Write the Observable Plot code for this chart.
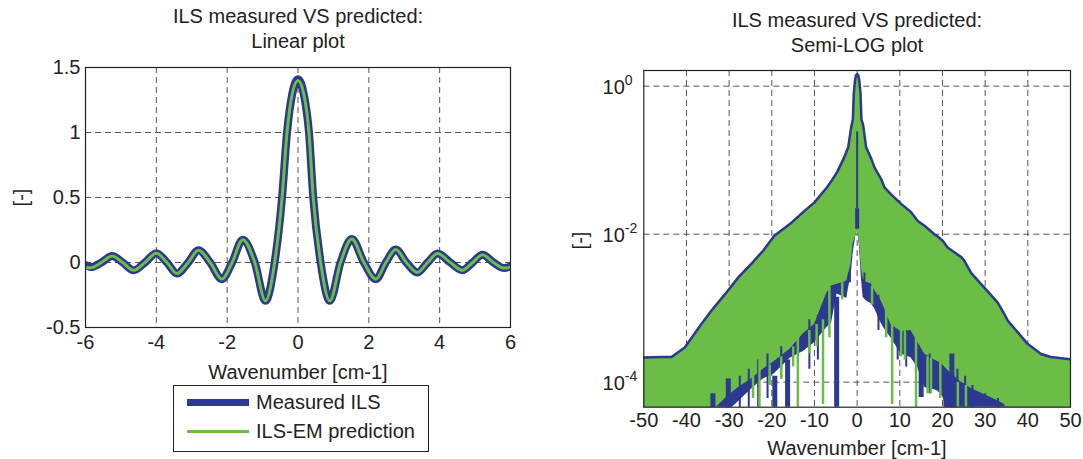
<!DOCTYPE html>
<html><head><meta charset="utf-8">
<script src="https://cdn.jsdelivr.net/npm/d3@7"></script>
<script src="https://cdn.jsdelivr.net/npm/@observablehq/plot@0.6"></script>
<style>
html,body{margin:0;padding:0;background:#fff;}
#root{position:relative;width:1083px;height:459px;overflow:hidden;font-family:"Liberation Sans",Arial,sans-serif;color:#222;background:#fff;}
.t{position:absolute;font-size:20px;text-align:center;white-space:nowrap;line-height:25px;}
.p{position:absolute;}
</style></head>
<body><div id="root"></div>
<script>
// ---------- Left panel data (linear plot) ----------
const leftX = [-6, -5.85, -5.55, -5.25, -4.95, -4.64, -4.32, -4.0, -3.7, -3.42, -3.1, -2.81, -2.48, -2.15, -1.86, -1.56, -1.22, -0.92, -0.66, -0.45, -0.31, -0.16, 0, 0.16, 0.31, 0.43, 0.64, 0.9, 1.2, 1.52, 1.86, 2.2, 2.48, 2.76, 3.06, 3.37, 3.66, 3.94, 4.3, 4.64, 4.93, 5.21, 5.52, 5.82, 6];
const measuredILS = [-0.02, -0.035, 0, 0.05, 0, -0.06, 0, 0.072, 0, -0.085, 0, 0.095, 0, -0.128, 0, 0.175, 0, -0.295, 0, 0.5, 1.0, 1.3, 1.41, 1.3, 1.0, 0.5, 0, -0.295, 0, 0.18, 0, -0.128, 0, 0.10, 0, -0.077, 0, 0.069, 0, -0.059, 0, 0.059, 0, -0.043, -0.03];
const predictedILS = [-0.04, -0.04, 0, 0.05, 0, -0.06, 0, 0.072, 0, -0.085, 0, 0.095, 0, -0.128, 0, 0.175, 0, -0.295, 0, 0.5, 1.0, 1.3, 1.40, 1.3, 1.0, 0.5, 0, -0.295, 0, 0.18, 0, -0.128, 0, 0.10, 0, -0.077, 0, 0.069, 0, -0.059, 0, 0.059, 0, -0.043, -0.035];
const leftXTicks = [-6, -4, -2, 0, 2, 4, 6];
const leftYTicks = [-0.5, 0, 0.5, 1, 1.5];
const leftYTickLabels = ["-0.5", "0", "0.5", "1", "1.5"];

// ---------- Right panel data (semi-log plot) ----------
const rightX = [-50, -46, -43.5, -40.4, -36.5, -34, -30.3, -27.8, -24.8, -22, -19.4, -15.7, -12.6, -10, -7.1, -6, -4.7, -3, -2.4, -2.1, -1.4, -1.0, -0.8, -0.5, -0.25, 0, 0.25, 0.5, 0.8, 1.0, 1.4, 2.1, 3.3, 4.05, 5.6, 6.4, 7.9, 10.3, 12.6, 14.2, 15.8, 18.1, 18.9, 20.1, 21.2, 24.4, 25.1, 26.7, 29.8, 32.9, 34.5, 35.3, 40, 43.1, 45.4, 50];
const measuredUpper = [2.15e-4, 2.19e-4, 2.19e-4, 2.95e-4, 6.1e-4, 9.5e-4, 1.72e-3, 2.63e-3, 3.98e-3, 6.0e-3, 9.5e-3, 1.38e-2, 2.0e-2, 2.69e-2, 4.27e-2, 5.25e-2, 6.9e-2, 0.11, 0.135, 0.148, 0.28, 0.355, 0.79, 1.2, 1.41, 1.46, 1.41, 1.2, 0.79, 0.355, 0.30, 0.15, 0.105, 8.0e-2, 5.6e-2, 4.3e-2, 3.47e-2, 2.57e-2, 2.0e-2, 1.51e-2, 1.3e-2, 1.0e-2, 9.3e-3, 8.1e-3, 6.6e-3, 4.9e-3, 4.4e-3, 3.0e-3, 1.9e-3, 1.2e-3, 8.3e-4, 6.8e-4, 3.27e-4, 2.4e-4, 2.19e-4, 2.04e-4];
const measuredLower = [4e-5, 4e-5, 4e-5, 4e-5, 4e-5, 4e-5, 4e-5, 5.5e-5, 8e-5, 1.1e-4, 1.3e-4, 2.1e-4, 2.6e-4, 3.4e-4, 5.5e-4, 6.3e-4, 1.55e-3, 1.41e-3, 1.35e-3, 1.78e-3, 2.8e-3, 5.0e-3, 6.3e-3, 7.9e-3, 1.0e-2, 1.17e-2, 1.0e-2, 7.1e-3, 3.98e-3, 2.5e-3, 1.41e-3, 1.26e-3, 1.15e-3, 1.0e-3, 6.3e-4, 5.25e-4, 3.98e-4, 2.4e-4, 2.14e-4, 1.58e-4, 8.5e-5, 7.9e-5, 7.6e-5, 6.3e-5, 4e-5, 4e-5, 4e-5, 4e-5, 4e-5, 4e-5, 4e-5, 4e-5, 4e-5, 4e-5, 4e-5, 4e-5];
const predictedLower = [4e-5, 4e-5, 4e-5, 4e-5, 4e-5, 4e-5, 6.5e-5, 8.5e-5, 1.1e-4, 1.5e-4, 1.9e-4, 2.8e-4, 4.5e-4, 6.0e-4, 1.6e-3, 2.0e-3, 2.1e-3, 2.24e-3, 2.34e-3, 2.8e-3, 3.98e-3, 7.1e-3, 7.9e-3, 8.9e-3, 1.0e-2, 1.12e-2, 1.0e-2, 7.9e-3, 5.0e-3, 3.55e-3, 2.5e-3, 2.24e-3, 2.14e-3, 1.78e-3, 1.26e-3, 1.0e-3, 6.0e-4, 4.8e-4, 5.0e-4, 3.5e-4, 2.4e-4, 2.0e-4, 1.9e-4, 1.7e-4, 1.45e-4, 1.0e-4, 9.5e-5, 8.2e-5, 6.8e-5, 5.6e-5, 5.0e-5, 4e-5, 4e-5, 4e-5, 4e-5, 4e-5];
// deep dips of the measured ILS (wide strokes)
const measuredDipX = [-33.8, -30.2, -19.3, -16.3, -4.8, 15.0, 20.8, 22.2];
const measuredDipTop = [7e-5, 1.1e-4, 1.2e-4, 2.0e-4, 1.4e-3, 2.4e-4, 1.05e-4, 2.4e-4];
const measuredDipBottom = [4e-5, 4e-5, 4e-5, 4e-5, 4e-5, 6.2e-5, 4e-5, 4e-5];
// narrow dips of the measured ILS
const measuredThinX = [-27.5, -25.4, -23.2, -21, -17.8, -11.2, -9.2, -1.7, 1.7, 5, 9.5, 11.5, 17, 23.5, 25.3, 27, 30, 33];
const measuredThinTop = [1.2e-4, 1.5e-4, 2e-4, 2.4e-4, 3e-4, 7e-4, 8e-4, 3e-3, 3e-3, 1.5e-3, 5e-4, 5e-4, 2.4e-4, 1.5e-4, 1.2e-4, 9e-5, 7e-5, 6e-5];
const measuredThinBottom = [4e-5, 4e-5, 4e-5, 6e-5, 1.1e-4, 1.5e-4, 2e-4, 2.2e-3, 1.5e-3, 5e-4, 2e-4, 1.6e-4, 7e-5, 4e-5, 4e-5, 4e-5, 5e-5, 4e-5];
// dips of the ILS-EM prediction
const predictedDipX = [-22.9, -13.9, -8.0, -6.5, 6.8, 8.2, 13.8];
const predictedDipTop = [2e-4, 5e-4, 7e-4, 1.9e-3, 1.3e-3, 7e-4, 4e-4];
const predictedDipBottom = [4e-5, 4e-5, 5e-5, 4e-4, 4e-4, 5e-5, 4e-5];
// short teeth of the ILS-EM prediction over the measured fringe
const predictedToothX = [-24.4, -20.5, -17.8, -15, -11.2, -9.5, -3.5, 3.5, 10.3, 11.2, 16.5, 17.3, 19.5, 23.6, 25.5];
const predictedToothTop = [1.2e-4, 1.7e-4, 2.2e-4, 3e-4, 5e-4, 6e-4, 2.2e-3, 2e-3, 5e-4, 5e-4, 2.2e-4, 2.1e-4, 1.8e-4, 1.0e-4, 9e-5];
const predictedToothBottom = [6e-5, 9e-5, 1.1e-4, 1.6e-4, 2.4e-4, 3e-4, 1.3e-3, 1.1e-3, 2.2e-4, 2e-4, 7e-5, 7e-5, 6e-5, 4e-5, 4e-5];
// central measured line visible through the fill
const centerX = [0, 0];
const centerTop = [0.24, 0.022];
const centerBottom = [0.022, 0.0117];
const rightXTicks = [-50, -40, -30, -20, -10, 0, 10, 20, 30, 40, 50];
const rightYTicks = [1, 1e-2, 1e-4];
const rightYBase = ["10", "10", "10"];
const rightYExp = ["0", "-2", "-4"];

// ---------- styles ----------
const FONT = '"Liberation Sans", Arial, sans-serif';
const BLUE = "#2B3990";
const GREEN = "#6CBD45";
const GRID = "#555";
const DASH = "6,4";

const root = document.getElementById("root");
function place(el, left, top) {
  const d = document.createElement("div");
  d.className = "p"; d.style.left = left + "px"; d.style.top = top + "px";
  d.appendChild(el); root.appendChild(d);
}
function text(str, left, top, width, extra) {
  const d = document.createElement("div");
  d.className = "t"; d.innerHTML = str;
  d.style.left = left + "px"; d.style.top = top + "px"; d.style.width = width + "px";
  if (extra) Object.assign(d.style, extra);
  root.appendChild(d);
  return d;
}

// ---------- Left plot ----------
const leftData = leftX.map((x, i) => ({x, m: measuredILS[i], p: predictedILS[i]}));
const left = Plot.plot({
  width: 540, height: 400,
  marginLeft: 85, marginRight: 30, marginTop: 67, marginBottom: 73,
  style: {fontFamily: FONT, fontSize: "20px", color: "#222", background: "transparent", overflow: "visible"},
  x: {domain: [-6, 6]},
  y: {domain: [-0.5, 1.5]},
  marks: [
    Plot.gridX(leftXTicks, {stroke: GRID, strokeOpacity: 1, strokeDasharray: DASH}),
    Plot.gridY(leftYTicks, {stroke: GRID, strokeOpacity: 1, strokeDasharray: DASH}),
    Plot.line(leftData, {x: "x", y: "m", stroke: BLUE, strokeWidth: 8, curve: "monotone-x", clip: true}),
    Plot.line(leftData, {x: "x", y: "p", stroke: GREEN, strokeWidth: 3, curve: "monotone-x", clip: true}),
    Plot.frame({stroke: "#222", strokeWidth: 1.2}),
    Plot.axisX(leftXTicks, {tickSize: 0, tickPadding: 7, tickFormat: d => String(d), label: null}),
    Plot.axisY(leftYTicks, {tickSize: 0, tickPadding: 5, tickFormat: d => leftYTickLabels[leftYTicks.indexOf(d)], label: null})
  ]
});
place(left, 0, 0);

// ---------- Right plot ----------
const rightData = rightX.map((x, i) => ({x, up: measuredUpper[i], mLow: measuredLower[i], pLow: predictedLower[i]}));
const segs = (xs, t, b) => xs.map((x, i) => ({x, y1: t[i], y2: b[i]}));
const right = Plot.plot({
  width: 543, height: 459,
  marginLeft: 103.3, marginRight: 13, marginTop: 70, marginBottom: 52.3,
  style: {fontFamily: FONT, fontSize: "20px", color: "#222", background: "transparent", overflow: "visible"},
  x: {domain: [-50, 50]},
  y: {type: "log", domain: [4.59e-5, 1.63], axis: null},
  marks: [
    Plot.gridX(rightXTicks.slice(1, -1), {stroke: GRID, strokeOpacity: 1, strokeDasharray: DASH}),
    Plot.gridY(rightYTicks, {stroke: GRID, strokeOpacity: 1, strokeDasharray: DASH}),
    Plot.areaY(rightData, {x: "x", y1: "mLow", y2: "up", fill: BLUE, clip: true}),
    Plot.areaY(rightData, {x: "x", y1: "pLow", y2: "up", fill: GREEN, clip: true}),
    Plot.ruleX(segs(measuredDipX, measuredDipTop, measuredDipBottom), {x: "x", y1: "y1", y2: "y2", stroke: BLUE, strokeWidth: 5, clip: true}),
    Plot.ruleX(segs(measuredThinX, measuredThinTop, measuredThinBottom), {x: "x", y1: "y1", y2: "y2", stroke: BLUE, strokeWidth: 2, clip: true}),
    Plot.ruleX(segs(predictedToothX, predictedToothTop, predictedToothBottom), {x: "x", y1: "y1", y2: "y2", stroke: GREEN, strokeWidth: 2.5, clip: true}),
    Plot.ruleX(segs(predictedDipX, predictedDipTop, predictedDipBottom), {x: "x", y1: "y1", y2: "y2", stroke: GREEN, strokeWidth: 2.5, clip: true}),
    Plot.ruleX(segs(centerX, centerTop, centerBottom), {x: "x", y1: "y1", y2: "y2", stroke: BLUE, strokeWidth: (d, i) => i === 0 ? 2 : 4, clip: true}),
    Plot.line(rightData, {x: "x", y: "up", stroke: BLUE, strokeWidth: 2.5, clip: true}),
    Plot.frame({stroke: "#222", strokeWidth: 1.2}),
    Plot.axisX(rightXTicks, {tickSize: 0, tickPadding: 6, tickFormat: d => String(d), label: null}),
    Plot.text(rightYTicks, {y: d => d, frameAnchor: "left", text: (d, i) => rightYBase[i], textAnchor: "end", dx: -19, dy: 1, fill: "#222"}),
    Plot.text(rightYTicks, {y: d => d, frameAnchor: "left", text: (d, i) => rightYExp[i], textAnchor: "start", dx: -19, dy: -6, fontSize: 14, fill: "#222"})
  ]
});
place(right, 540, 0);

// ---------- titles & labels ----------
text("ILS measured VS predicted:<br>Linear plot", 98, 4, 400);
text("ILS measured VS predicted:<br>Semi-LOG plot", 657, 8, 400);
text("Wavenumber [cm-1]", 98, 360, 400);
text("Wavenumber [cm-1]", 657, 436, 400);
text("[-]", 1, 185, 40, {transform: "rotate(-90deg)"});
text("[-]", 560, 228, 40, {transform: "rotate(-90deg)"});

// ---------- legend ----------
const lg = document.createElement("div");
Object.assign(lg.style, {position: "absolute", left: "173px", top: "385px", width: "254px", height: "65px", border: "1px solid #222", background: "#fff", fontSize: "20px"});
lg.innerHTML =
  `<div style="position:absolute;left:13px;top:13px;width:62px;height:7px;background:${BLUE}"></div>` +
  `<div style="position:absolute;left:82px;top:4px;line-height:24px;white-space:nowrap">Measured ILS</div>` +
  `<div style="position:absolute;left:13px;top:44px;width:62px;height:3px;background:${GREEN}"></div>` +
  `<div style="position:absolute;left:82px;top:33px;line-height:24px;white-space:nowrap">ILS-EM prediction</div>`;
root.appendChild(lg);
</script>
</body></html>
